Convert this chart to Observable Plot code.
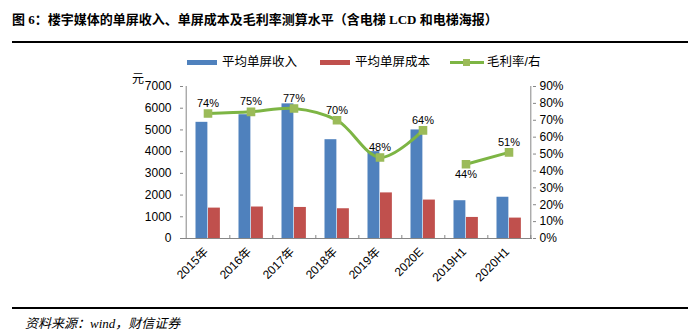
<!DOCTYPE html>
<html><head><meta charset="utf-8">
<script src="https://cdn.jsdelivr.net/npm/d3@7"></script>
<script src="https://cdn.jsdelivr.net/npm/@observablehq/plot@0.6"></script>
<style>
body{margin:0;background:#fff;}
#wrap{position:relative;width:699px;height:334px;overflow:hidden;font-family:"Liberation Sans","Noto Sans CJK SC",sans-serif;color:#000;}
#chart{position:absolute;left:0;top:0;}
#title{position:absolute;left:12px;top:9px;font-weight:bold;font-size:13px;font-family:"Liberation Serif","Noto Sans CJK SC",serif;white-space:nowrap;}
.hr{position:absolute;left:12px;width:676px;height:2px;background:#000;}
#source{position:absolute;left:25px;top:313px;font-size:13px;font-style:italic;font-family:"Liberation Serif","Noto Sans CJK SC",serif;white-space:nowrap;}
.leg{position:absolute;top:54px;font-size:12.5px;white-space:nowrap;line-height:16px;}
.sw{position:absolute;}
#yunit{position:absolute;left:132px;top:69px;font-size:12px;}
</style>
</head><body>
<div id="wrap">
  <div id="chart"></div>
  <div id="title">图 6：楼宇媒体的单屏收入、单屏成本及毛利率测算水平（含电梯 LCD 和电梯海报）</div>
  <div class="hr" style="top:41px"></div>
  <div class="hr" style="top:307px"></div>
  <div id="source">资料来源：wind，财信证券</div>
  <div id="legend"></div>
  <div id="yunit">元</div>
</div>
<script>
const categories = ["2015年","2016年","2017年","2018年","2019年","2020E","2019H1","2020H1"];
const revenue = [5350,5700,6200,4550,4000,5000,1740,1900];
const cost = [1400,1450,1430,1370,2100,1770,970,940];
const margin = [74,75,77,70,48,64,44,51];
const segment = [1,1,1,1,1,1,2,2];
const leftTicks = [0,1000,2000,3000,4000,5000,6000,7000];
const rightTicks = [0,10,20,30,40,50,60,70,80,90];
const seriesNames = ["平均单屏收入","平均单屏成本","毛利率/右"];
const labelsBelow = ["2019H1"];

const BLUE = "#4F81BD", RED = "#C0504D", GREEN_LINE = "#7DB544", GREEN_MK = "#9BBB59", AXIS = "#868686";

const yMax = leftTicks[leftTicks.length-1];
const pMax = rightTicks[rightTicks.length-1];
const k = yMax / pMax;

const rows = categories.map((c,i)=>({cat:c, rev:revenue[i], cost:cost[i], m:margin[i], seg:segment[i], pv:margin[i]*k}));

const W = 699, H = 334, mL = 183, mR = 167, mT = 86, mB = 96;
const step = (W - mL - mR) / categories.length;
const px = yMax / (H - mT - mB); // data units per pixel

const chart = Plot.plot({
  width: W, height: H,
  marginLeft: mL, marginRight: mR, marginTop: mT, marginBottom: mB,
  x: {domain: categories, padding: 0, axis: null, label: null},
  y: {domain: [0, yMax], axis: null, label: null},
  style: {fontFamily: '"Liberation Sans","Noto Sans CJK SC",sans-serif', fontSize: "12px", color: "#000", background: "transparent"},
  marks: [
    Plot.barY(rows, {x: "cat", y: "rev", fill: BLUE, insetLeft: 9.5, insetRight: step - 9.5 - 12.5}),
    Plot.barY(rows, {x: "cat", y: "cost", fill: RED, insetLeft: 22, insetRight: step - 22 - 12.5}),
    Plot.ruleX([categories[0]], {dx: -step/2, y1: 0, y2: yMax, stroke: AXIS}),
    Plot.ruleX([categories[categories.length-1]], {dx: step/2, y1: 0, y2: yMax, stroke: AXIS}),
    Plot.ruleY([0], {stroke: AXIS}),
    Plot.ruleX(categories, {dx: step/2, y1: 0, y2: 3*px, stroke: AXIS}),
    Plot.axisY({anchor: "left", ticks: leftTicks, tickFormat: d => String(d), tickSize: 3, tickPadding: 9, stroke: AXIS, label: null, fontSize: 12}),
    Plot.axisY({anchor: "right", ticks: rightTicks.map(p => p*k), tickFormat: d => Math.round(d/k) + "%", tickSize: 3, tickPadding: 4, stroke: AXIS, label: null, fontSize: 12}),
    Plot.line(rows, {x: "cat", y: "pv", z: "seg", stroke: GREEN_LINE, strokeWidth: 3, curve: "catmull-rom"}),
    Plot.dot(rows, {x: "cat", y: "pv", symbol: "square", r: 4, fill: GREEN_MK, stroke: GREEN_MK}),
    Plot.text(rows.filter(d => !labelsBelow.includes(d.cat)), {x: "cat", y: "pv", text: d => d.m + "%", dy: -10, fontSize: 11}),
    Plot.text(rows.filter(d => labelsBelow.includes(d.cat)), {x: "cat", y: "pv", text: d => d.m + "%", dy: 10, fontSize: 11}),
    Plot.text(categories, {x: d => d, frameAnchor: "bottom", rotate: -45, textAnchor: "end", dx: 1, dy: 14, fontSize: 12})
  ]
});
document.getElementById("chart").appendChild(chart);

// legend
const legend = document.getElementById("legend");
const legItems = [
  {name: seriesNames[0], type: "bar", color: BLUE, x: 187},
  {name: seriesNames[1], type: "bar", color: RED, x: 320},
  {name: seriesNames[2], type: "line", color: GREEN_LINE, x: 450}
];
legItems.forEach(it => {
  if (it.type === "bar") {
    const s = document.createElement("div");
    s.className = "sw";
    Object.assign(s.style, {left: it.x + "px", top: "60px", width: "30px", height: "5px", background: it.color});
    legend.appendChild(s);
  } else {
    const s = document.createElement("div");
    s.className = "sw";
    Object.assign(s.style, {left: it.x + "px", top: "61px", width: "34px", height: "3px", background: it.color});
    legend.appendChild(s);
    const m = document.createElement("div");
    m.className = "sw";
    Object.assign(m.style, {left: (it.x + 13) + "px", top: "59px", width: "7px", height: "7px", background: GREEN_MK});
    legend.appendChild(m);
  }
  const t = document.createElement("div");
  t.className = "leg";
  t.style.left = (it.x + (it.type === "bar" ? 35 : 37)) + "px";
  t.textContent = it.name;
  legend.appendChild(t);
});
</script>
</body></html>
